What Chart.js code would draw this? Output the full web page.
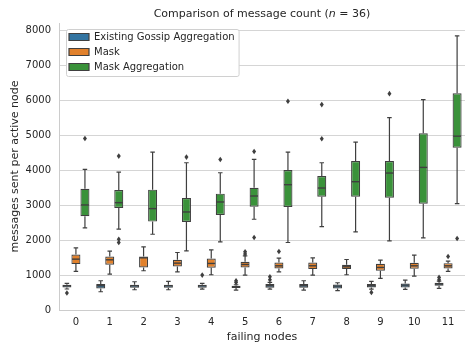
<!DOCTYPE html>
<html>
<head>
<meta charset="utf-8">
<script src="https://cdn.jsdelivr.net/npm/chart.js@4.4.1/dist/chart.umd.min.js"></script>
<style>
  html, body { margin: 0; padding: 0; background: #fff; }
  #wrap { width: 465px; height: 349px; }
</style>
</head>
<body>
<div id="wrap"><canvas id="chart" width="465" height="349"></canvas></div>
<script>
// ---- data ----------------------------------------------------------
const failingNodes = ['0', '1', '2', '3', '4', '5', '6', '7', '8', '9', '10', '11'];
const seriesLabels = ['Existing Gossip Aggregation', 'Mask', 'Mask Aggregation'];
const seriesColors = ['#3274a1', '#e1812c', '#3a923a'];
const chartTitle = ['Comparison of message count (', 'n', ' = 36)'];
const xAxisLabel = 'failing nodes';
const yAxisLabel = 'messages sent per active node';
const yTickValues = [0, 1000, 2000, 3000, 4000, 5000, 6000, 7000, 8000];

// per failing-node count: [lower whisker, Q1, median, Q3, upper whisker]
const gossipStats = [
  [600, 646, 693, 722, 760], [522, 617, 693, 741, 836], [579, 636, 693, 722, 807],
  [579, 636, 693, 722, 817], [598, 636, 693, 722, 760], [570, 630, 665, 693, 722],
  [598, 636, 693, 741, 788], [570, 636, 693, 741, 836], [551, 617, 684, 731, 779],
  [598, 646, 693, 741, 817], [589, 646, 712, 760, 855], [617, 693, 741, 779, 826]
];
const gossipOutliers = [[484], [], [], [], [997], [788, 836], [864, 950], [], [], [503], [], [864, 931]];

const maskStats = [
  [1102, 1311, 1453, 1586, 1776], [1026, 1292, 1434, 1529, 1681], [1121, 1216, 1491, 1529, 1804],
  [1092, 1244, 1339, 1434, 1643], [1007, 1206, 1330, 1472, 1719], [997, 1216, 1301, 1377, 1548],
  [1092, 1187, 1263, 1358, 1481], [997, 1168, 1263, 1358, 1491], [1007, 1168, 1235, 1292, 1443],
  [902, 1121, 1216, 1320, 1425], [969, 1178, 1263, 1349, 1567], [1102, 1187, 1263, 1339, 1396]
];
const maskOutliers = [[], [], [], [], [], [1600, 1662], [1671], [], [], [], [], [1529]];

const maskAggStats = [
  [2346, 2678, 3001, 3466, 4017], [2308, 2915, 3067, 3428, 3941], [2165, 2526, 2897, 3438, 4511],
  [1690, 2517, 2801, 3200, 4207], [1947, 2716, 3086, 3324, 3922], [2593, 2953, 3257, 3495, 4302],
  [1928, 2944, 3580, 3998, 4511], [2384, 3238, 3485, 3827, 4207], [2232, 3238, 3666, 4255, 4796],
  [1975, 3210, 3913, 4255, 5499], [2061, 3039, 4074, 5052, 6011], [3039, 4634, 4967, 6192, 7835]
];
const maskAggOutliers = [[4900], [4397, 2023, 1928], [], [4368], [4302], [4530, 2070],
  [5964], [4891, 5869], [], [6182], [], [2042]];

// ---- styling ---------------------------------------------------------
const FONT = 'DejaVu Sans';
const TEXT = '#262626';
const EDGE = '#3f3f3f';
const GRID = '#d5d5d5';

const allStats = [gossipStats, maskStats, maskAggStats];
const allOutliers = [gossipOutliers, maskOutliers, maskAggOutliers];

// Boxes are floating bars from Q1 to Q3; whiskers, medians and fliers are
// drawn on top using the bar geometry and the y scale.
const boxExtras = {
  id: 'boxExtras',
  afterLayout(chart) {
    const lg = chart.legend, ca = chart.chartArea;
    if (!lg) return;
    lg.left = ca.left + 5;
    lg.top = ca.top + 4;
    lg.right = ca.right;
    lg.bottom = ca.bottom;
  },
  beforeDatasetsDraw(chart) {
    const lg = chart.legend;
    if (!lg || !lg.legendHitBoxes || !lg.legendHitBoxes.length) return;
    const hb = lg.legendHitBoxes;
    let l = Infinity, t = Infinity, r = -Infinity, b = -Infinity;
    hb.forEach(h => {
      l = Math.min(l, h.left); t = Math.min(t, h.top);
      r = Math.max(r, h.left + h.width); b = Math.max(b, h.top + h.height);
    });
    l -= 3; t -= 3; r += 4; b += 4;
    const ctx = chart.ctx;
    ctx.save();
    ctx.beginPath();
    ctx.roundRect(l + 0.5, t + 0.5, r - l, b - t, 2);
    ctx.fillStyle = '#ffffff';
    ctx.fill();
    ctx.strokeStyle = '#d0d0d0';
    ctx.lineWidth = 1;
    ctx.stroke();
    ctx.restore();
    lg.draw();
  },
  afterDatasetsDraw(chart) {
    const ctx = chart.ctx;
    const y = chart.scales.y;
    ctx.save();
    ctx.strokeStyle = EDGE;
    ctx.fillStyle = EDGE;
    ctx.lineWidth = 1.2;
    allStats.forEach((stats, di) => {
      const meta = chart.getDatasetMeta(di);
      meta.data.forEach((bar, j) => {
        const s = stats[j];
        const x = bar.x, w = bar.width;
        const cap = w / 4;
        const py = v => y.getPixelForValue(v);
        ctx.beginPath();
        // whiskers
        ctx.moveTo(x, py(s[3])); ctx.lineTo(x, py(s[4]));
        ctx.moveTo(x, py(s[1])); ctx.lineTo(x, py(s[0]));
        // caps
        ctx.moveTo(x - cap, py(s[4])); ctx.lineTo(x + cap, py(s[4]));
        ctx.moveTo(x - cap, py(s[0])); ctx.lineTo(x + cap, py(s[0]));
        ctx.stroke();
        // median
        ctx.beginPath();
        ctx.lineWidth = 1.4;
        ctx.moveTo(x - w / 2 + 0.6, py(s[2])); ctx.lineTo(x + w / 2 - 0.6, py(s[2]));
        ctx.stroke();
        ctx.lineWidth = 1.2;
        // fliers
        allOutliers[di][j].forEach(v => {
          const oy = py(v);
          ctx.beginPath();
          ctx.moveTo(x, oy - 2.8);
          ctx.lineTo(x + 2, oy);
          ctx.lineTo(x, oy + 2.8);
          ctx.lineTo(x - 2, oy);
          ctx.closePath();
          ctx.fill();
        });
      });
    });
    ctx.restore();
  },
  afterDraw(chart) {
    // title with an italic "n"
    const ctx = chart.ctx, ca = chart.chartArea;
    const styles = ['', 'italic ', ''];
    ctx.save();
    ctx.fillStyle = TEXT;
    ctx.textBaseline = 'middle';
    ctx.textAlign = 'left';
    const widths = chartTitle.map((p, i) => {
      ctx.font = styles[i] + '11px "' + FONT + '"';
      return ctx.measureText(p).width;
    });
    const total = widths.reduce((a, b) => a + b, 0);
    let x = (ca.left + ca.right) / 2 - total / 2;
    chartTitle.forEach((p, i) => {
      ctx.font = styles[i] + '11px "' + FONT + '"';
      ctx.fillText(p, x, 14);
      x += widths[i];
    });
    ctx.restore();
  }
};

new Chart(document.getElementById('chart'), {
  type: 'bar',
  data: {
    labels: failingNodes,
    datasets: allStats.map((stats, i) => ({
      label: seriesLabels[i],
      data: stats.map(s => [s[1], s[3]]),
      backgroundColor: seriesColors[i],
      borderColor: EDGE,
      borderWidth: 1.2,
      borderSkipped: false,
      categoryPercentage: 0.8,
      barPercentage: 1.0
    }))
  },
  options: {
    responsive: false,
    animation: false,
    devicePixelRatio: 1,
    layout: { padding: { top: 23, right: 0, left: 0, bottom: 0 } },
    plugins: {
      legend: {
        position: 'chartArea',
        align: 'start',
        labels: {
          boxWidth: 20,
          boxHeight: 7,
          padding: 5,
          color: TEXT,
          font: { family: FONT, size: 10 }
        }
      },
      tooltip: { enabled: false },
      title: { display: false }
    },
    scales: {
      x: {
        grid: { display: false, drawTicks: false },
        border: { display: true, color: '#cccccc' },
        ticks: { color: TEXT, padding: 6, font: { family: FONT, size: 10 } },
        title: {
          display: true, text: xAxisLabel, color: TEXT,
          font: { family: FONT, size: 11 }, padding: { top: 0, bottom: 5 }
        },
        afterFit(scale) { scale.height = 39; }
      },
      y: {
        min: 0,
        max: 8200,
        ticks: {
          stepSize: 1000, color: TEXT, padding: 8, font: { family: FONT, size: 10 },
          callback: v => String(v)
        },
        afterBuildTicks(scale) {
          scale.ticks = yTickValues.map(v => ({ value: v }));
        },
        grid: { color: GRID, lineWidth: 1, drawTicks: false },
        border: { display: true, color: '#cccccc' },
        title: {
          display: true, text: yAxisLabel, color: TEXT,
          font: { family: FONT, size: 11 }, padding: { top: 9, bottom: 0 }
        },
        afterFit(scale) { scale.width = 59; }
      }
    }
  },
  plugins: [boxExtras]
});
</script>
</body>
</html>
